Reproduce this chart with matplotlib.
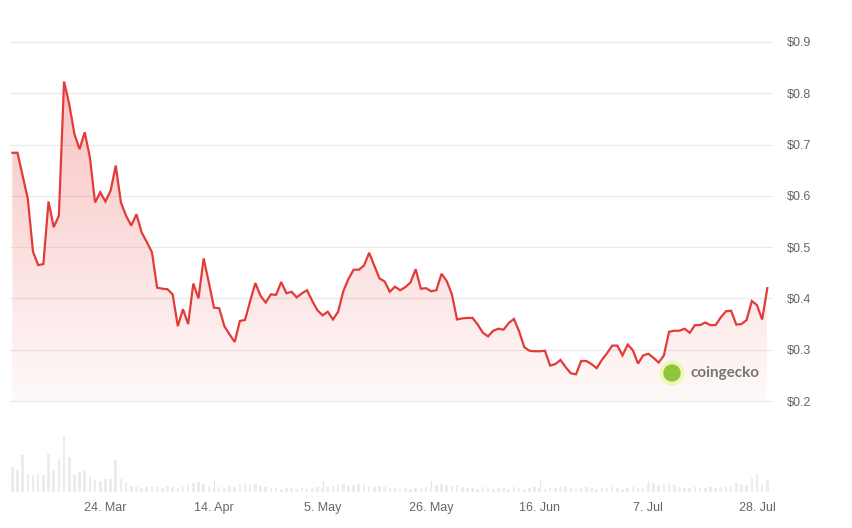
import numpy as np
import pandas as pd
import matplotlib
matplotlib.use("Agg")
import matplotlib.pyplot as plt
import matplotlib.dates as mdates
from matplotlib.patches import Ellipse

# ---------------- DATA ----------------
start_date = "2024-03-06"
prices = [
    0.684, 0.684, 0.639, 0.594, 0.491, 0.465, 0.467, 0.589, 0.539, 0.561,
    0.823, 0.779, 0.721, 0.691, 0.724, 0.675, 0.587, 0.607, 0.589, 0.610,
    0.659, 0.587, 0.561, 0.542, 0.564, 0.529, 0.510, 0.490, 0.421,
    0.419, 0.418, 0.408, 0.346, 0.379, 0.350, 0.429, 0.400, 0.478, 0.431,
    0.382, 0.381, 0.346, 0.330, 0.315, 0.356, 0.358, 0.395, 0.430, 0.405,
    0.392, 0.408, 0.407, 0.432, 0.410, 0.413, 0.402, 0.410, 0.416,
    0.395, 0.377, 0.367, 0.374, 0.359, 0.374, 0.414, 0.438, 0.456, 0.456,
    0.464, 0.489, 0.464, 0.439, 0.433, 0.413, 0.423, 0.416, 0.422, 0.431,
    0.457, 0.419, 0.420, 0.414, 0.416, 0.448, 0.434, 0.408, 0.359,
    0.361, 0.362, 0.362, 0.349, 0.333, 0.326, 0.337, 0.341, 0.339, 0.352,
    0.360, 0.336, 0.305, 0.298, 0.297, 0.297, 0.298, 0.269, 0.272, 0.280,
    0.266, 0.254, 0.252, 0.278, 0.278, 0.272, 0.264, 0.280, 0.293,
    0.308, 0.308, 0.289, 0.310, 0.299, 0.273, 0.289, 0.292, 0.284, 0.275,
    0.289, 0.335, 0.337, 0.337, 0.341, 0.333, 0.348, 0.348, 0.353, 0.348,
    0.348, 0.363, 0.375, 0.376, 0.349, 0.350, 0.358, 0.395, 0.387, 0.359,
    0.420,
]
volumes = [
    25, 22, 37, 18, 17, 18, 17, 38, 22, 33, 56, 35, 17, 20, 22, 15, 12, 11,
    13, 13, 32, 13, 10, 6,
    5, 4, 5, 6, 5, 4, 6, 5, 4, 5,
    7, 9, 10, 8, 6,
    4, 5, 4, 6, 5,
    8, 9, 7, 8, 6,
    5, 4, 4, 3, 4, 4, 3, 4, 3, 4, 5, 4, 5,
    6, 7, 8, 6, 7, 8, 7, 6, 5, 6, 5,
    4, 4, 3, 4, 3, 4, 4, 5, 4,
    7, 8, 7, 6, 7, 5, 4,
    4, 3, 5, 4, 3, 4, 4, 3, 5, 4, 3, 4, 5, 4, 3, 4, 4, 5, 6, 4,
    3, 4, 5, 4, 3, 4, 4, 5, 4, 3, 4, 5, 4, 4,
    8, 9, 7, 8, 9, 7,
    5, 4, 4, 5, 4, 4, 5, 4, 5, 6, 6,
    9, 8, 7, 14, 18, 7, 12,
]
tick_dates = ["2024-03-24", "2024-04-14", "2024-05-05", "2024-05-26",
              "2024-06-16", "2024-07-07", "2024-07-28"]
tick_labels = ["24. Mar", "14. Apr", "5. May", "26. May",
               "16. Jun", "7. Jul", "28. Jul"]
price_ticks = [0.2, 0.3, 0.4, 0.5, 0.6, 0.7, 0.8, 0.9]
price_tick_labels = ["$0.2", "$0.3", "$0.4", "$0.5", "$0.6", "$0.7", "$0.8", "$0.9"]

# ---------------- STYLE ----------------
plt.rcParams['font.family'] = ['Liberation Sans', 'DejaVu Sans']
W, H = 853, 528
LINE = '#e23b38'
GRID = '#ebebeb'
TXT = '#666666'

dates = pd.date_range(start_date, periods=len(prices), freq="D")
x = mdates.date2num(dates.to_pydatetime())
x0 = x[0]
xlim = (x0 - 0.45, x0 + 147.1)

fig = plt.figure(figsize=(W / 100, H / 100), dpi=100)

def fr(left, top, right, bottom):
    return [left / W, 1 - bottom / H, (right - left) / W, (bottom - top) / H]

# price axes: 0.2 at y=401px, 0.9 at y=42px
ppx = 512.9
ax = fig.add_axes(fr(10, 35, 773, 410))
ylo = 0.2 - 9 / ppx
yhi = 0.9 + 7 / ppx

p = np.array(prices)
poly = ax.fill_between(x, p, 0.2, color='none', lw=0)
path = poly.get_paths()[0]
n = 256
alpha = np.linspace(0.32, 0.03, n).reshape(-1, 1)
img = np.zeros((n, 1, 4))
img[..., 0] = 0.93
img[..., 1] = 0.25
img[..., 2] = 0.25
img[..., 3] = alpha
im = ax.imshow(img, extent=[x.min(), x.max(), 0.2, p.max()], aspect='auto',
               origin='upper', zorder=1, interpolation='bilinear')
im.set_clip_path(path, transform=ax.transData)

for t in price_ticks:
    ax.axhline(t, color=GRID, lw=0.9, zorder=0)
ax.plot(x, p, color=LINE, lw=1.6, zorder=3, solid_joinstyle='miter')

ax.set_xlim(*xlim)
ax.set_ylim(ylo, yhi)
ax.yaxis.tick_right()
ax.set_yticks(price_ticks)
ax.set_yticklabels(price_tick_labels)
ax.tick_params(axis='y', length=0, pad=10, labelsize=9, labelcolor=TXT)
ax.set_xticks([])
for s in ax.spines.values():
    s.set_visible(False)
ax.patch.set_alpha(0)

# volume axes
vax = fig.add_axes(fr(10, 430, 773, 492))
vax.bar(x, volumes, width=0.5, color='#ececec', zorder=1)
vax.set_ylim(0, 62)
vax.set_xlim(*xlim)
tx = mdates.date2num(pd.to_datetime(tick_dates).to_pydatetime())
vax.set_xticks(tx)
vax.set_xticklabels(tick_labels)
vax.tick_params(axis='x', length=0, pad=7, labelsize=9, labelcolor=TXT)
vax.set_yticks([])
for t in tx:
    vax.axvline(t, ymin=0, ymax=0.18, color='#e4e4e4', lw=0.8, zorder=0)
for s in vax.spines.values():
    s.set_visible(False)
vax.patch.set_alpha(0)

# coingecko watermark
cx, cy = 672, 373
fig.add_artist(Ellipse((cx / W, 1 - cy / H), 24 / W, 24 / H,
                       color='#eef7b8', zorder=5))
fig.add_artist(Ellipse((cx / W, 1 - cy / H), 16 / W, 16 / H,
                       color='#8cc63f', zorder=6))
fig.text(691 / W, 1 - cy / H, "coingecko", color='#777777', fontsize=11,
         fontweight='bold', va='center', ha='left',
         family=['Lato', 'DejaVu Sans'], zorder=6)

fig.savefig("out.png", dpi=100, facecolor='white')
